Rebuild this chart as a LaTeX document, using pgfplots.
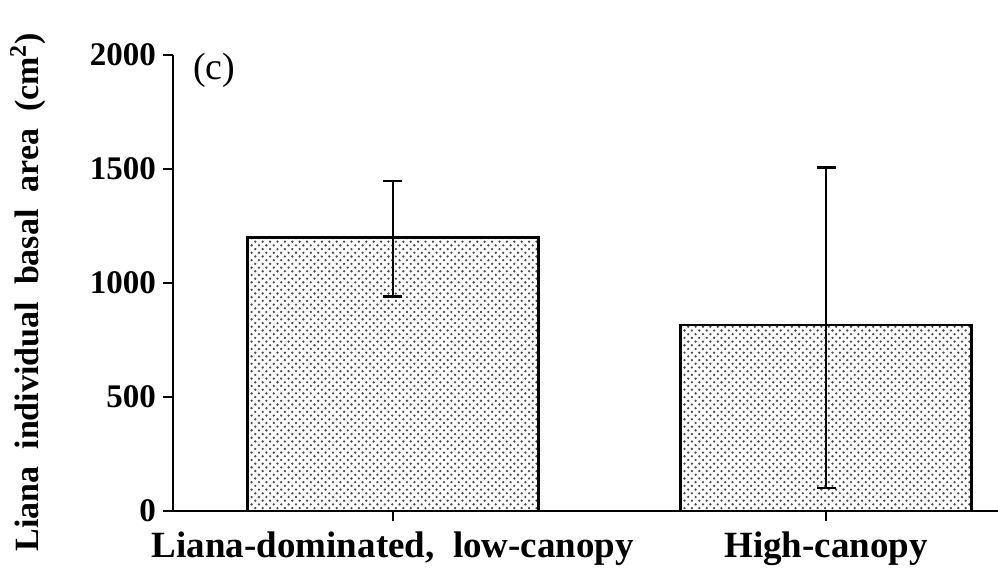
\documentclass[border=0pt]{standalone}
\usepackage{fontspec}
\setmainfont{Liberation Serif}
\usepackage{pgfplots}
\pgfplotsset{compat=1.18}
\usetikzlibrary{patterns}
\pgfdeclarepatternformonly{mydots}{\pgfqpoint{-1pt}{-1pt}}{\pgfqpoint{3.7pt}{3.7pt}}{\pgfqpoint{3.7pt}{3.7pt}}{%
  \pgfpathcircle{\pgfqpoint{0pt}{0pt}}{0.65pt}%
  \pgfpathcircle{\pgfqpoint{1.85pt}{1.85pt}}{0.65pt}%
  \pgfusepath{fill}}
\begin{document}
\begin{tikzpicture}
\begin{axis}[
  scale only axis,
  width=412.5pt, height=228pt,
  xmin=-0.508, xmax=1.397,
  ymin=0, ymax=2000,
  axis x line=bottom, axis y line=left,
  axis line style={-, line width=1.4pt},
  xtick={0,1},
  xticklabels={{Liana-dominated,\ \ low-canopy}, {High-canopy}},
  ytick={0,500,1000,1500,2000},
  tick style={line width=1.4pt, black},
  tick align=outside,
  major tick length=5pt,
  /pgf/number format/assume math mode=true,
  /pgf/number format/1000 sep={},
  yticklabel style={font=\bfseries\fontsize{16.5}{16.5}\selectfont},
  xticklabel style={font=\bfseries\fontsize{18.5}{18.5}\selectfont, yshift=-2pt},
  ylabel={Liana\ \ individual\ \ basal\ \ area\ \ (cm\textsuperscript{2})},
  ylabel style={font=\bfseries\fontsize{17}{17}\selectfont, at={(axis description cs:-0.176,0.48)}, anchor=center},
  ybar, bar width=145.5pt, bar shift=0pt,
  clip=false,
]
\addplot[draw=black, line width=1.4pt, pattern=mydots, pattern color=black!70,
  error bars/.cd, y dir=both, y explicit,
  error bar style={line width=1.4pt, black},
  error mark options={rotate=90, mark size=4.75pt, line width=1.4pt, black}]
  coordinates {
  (0,1200) += (0,247) -= (0,261)
  (1,816) += (0,691) -= (0,715)
  };
\node[font=\fontsize{19}{19}\selectfont] at (axis cs:-0.413,1932) {(c)};
\coordinate (bl) at (rel axis cs:0,0);
\end{axis}
\pgfresetboundingbox
\path[use as bounding box] (bl) ++(-86.5pt,-30pt) rectangle ++(499pt,285.5pt);
\end{tikzpicture}
\end{document}
